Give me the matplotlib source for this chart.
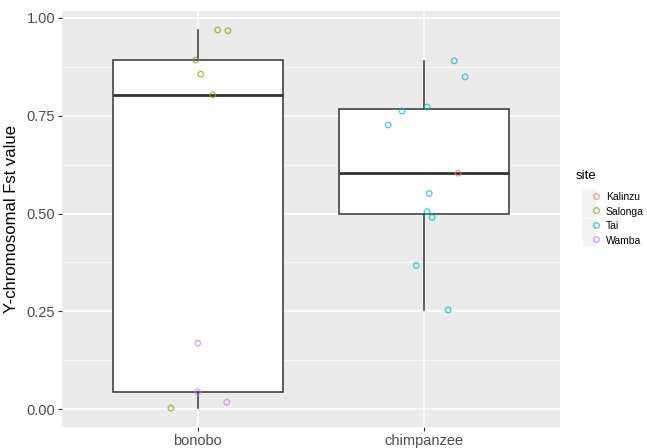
import matplotlib.pyplot as plt
from matplotlib.legend_handler import HandlerTuple
import numpy as np

# Chart data
species = ["bonobo", "chimpanzee"]
site_names = ["Kalinzu", "Salonga", "Tai", "Wamba"]
site_colors = ["#F8766D", "#7CAE00", "#00BFC4", "#C77CFF"]

bonobo_site = ["Salonga", "Salonga", "Salonga", "Salonga", "Salonga", "Salonga",
               "Wamba", "Wamba", "Wamba"]
bonobo_fst = [0.969, 0.967, 0.892, 0.856, 0.803, 0.003, 0.169, 0.044, 0.018]
bonobo_jitter = [0.088, 0.133, -0.009, 0.013, 0.066, -0.119, 0.0, 0.0, 0.128]

chimp_site = ["Tai", "Tai", "Tai", "Tai", "Tai", "Kalinzu",
              "Tai", "Tai", "Tai", "Tai", "Tai"]
chimp_fst = [0.890, 0.849, 0.762, 0.772, 0.726, 0.603, 0.551, 0.505, 0.490, 0.367, 0.254]
chimp_jitter = [0.133, 0.181, -0.097, 0.013, -0.159, 0.150, 0.022, 0.013, 0.035, -0.035, 0.106]

y_ticks = [0.0, 0.25, 0.5, 0.75, 1.0]
y_tick_labels = ["0.00", "0.25", "0.50", "0.75", "1.00"]

plt.rcParams['font.family'] = ['Liberation Sans', 'DejaVu Sans']

fig = plt.figure(figsize=(6.47, 4.48), dpi=100)
ax = fig.add_axes([62 / 647, 21 / 448, 498 / 647, 416 / 448])
ax.set_facecolor("#EBEBEB")

# grid like ggplot theme_grey
for y in y_ticks:
    ax.axhline(y, color="white", lw=1.1, zorder=0)
for y in np.arange(0.125, 1.0, 0.25):
    ax.axhline(y, color="white", lw=0.5, zorder=0)
for x in [1, 2]:
    ax.axvline(x, color="white", lw=1.1, zorder=0)

ax.boxplot([bonobo_fst, chimp_fst], positions=[1, 2], widths=0.75,
           whis=1.5, showfliers=False, patch_artist=True,
           boxprops=dict(facecolor="white", edgecolor="#333333", linewidth=1.1),
           whiskerprops=dict(color="#333333", linewidth=1.1),
           capprops=dict(linewidth=0),
           medianprops=dict(color="#333333", linewidth=2.0),
           zorder=2)

color_of = dict(zip(site_names, site_colors))
for pos, sites, vals, jit in [(1, bonobo_site, bonobo_fst, bonobo_jitter),
                              (2, chimp_site, chimp_fst, chimp_jitter)]:
    xs = [pos + j for j in jit]
    cols = [color_of[s] for s in sites]
    ax.scatter(xs, vals, s=16, facecolors="none", edgecolors=cols,
               linewidths=1.0, alpha=0.7, zorder=3)

all_vals = bonobo_fst + chimp_fst
lo, hi = min(all_vals), max(all_vals)
pad = (hi - lo) * 0.05
ax.set_ylim(lo - pad, hi + pad)
ax.set_xlim(0.4, 2.6)

ax.set_xticks([1, 2])
ax.set_xticklabels(species)
ax.set_yticks(y_ticks)
ax.set_yticklabels(y_tick_labels)
ax.tick_params(axis="both", colors="#333333", length=3, width=0.8,
               labelsize=10.5, labelcolor="#4D4D4D", pad=2)
ax.set_ylabel("Y-chromosomal Fst value", fontsize=12, color="black", labelpad=5)
for sp in ax.spines.values():
    sp.set_visible(False)

# legend with grey key boxes, title placed separately like ggplot
handles = []
for c in site_colors:
    key_bg = plt.Line2D([], [], marker="s", ls="none", markersize=10,
                        markerfacecolor="#F2F2F2", markeredgecolor="none")
    dot = plt.Line2D([], [], marker="o", ls="none", markersize=4,
                     markerfacecolor="none", markeredgecolor=c, alpha=0.7,
                     markeredgewidth=1.0)
    handles.append((key_bg, dot))
fig.text(576 / 647, 1 - 176 / 448, "site", fontsize=9.5, color="black",
         ha="left", va="center")
leg = fig.legend(handles, site_names, loc="upper left",
                 bbox_to_anchor=(586 / 647, 1 - 191 / 448), frameon=False,
                 fontsize=7.5, handlelength=1.3, handleheight=1.3,
                 handletextpad=0.6, labelspacing=0.3, borderaxespad=0,
                 borderpad=0,
                 handler_map={tuple: HandlerTuple(ndivide=None, pad=0)})

fig.savefig("out.png", dpi=100)
